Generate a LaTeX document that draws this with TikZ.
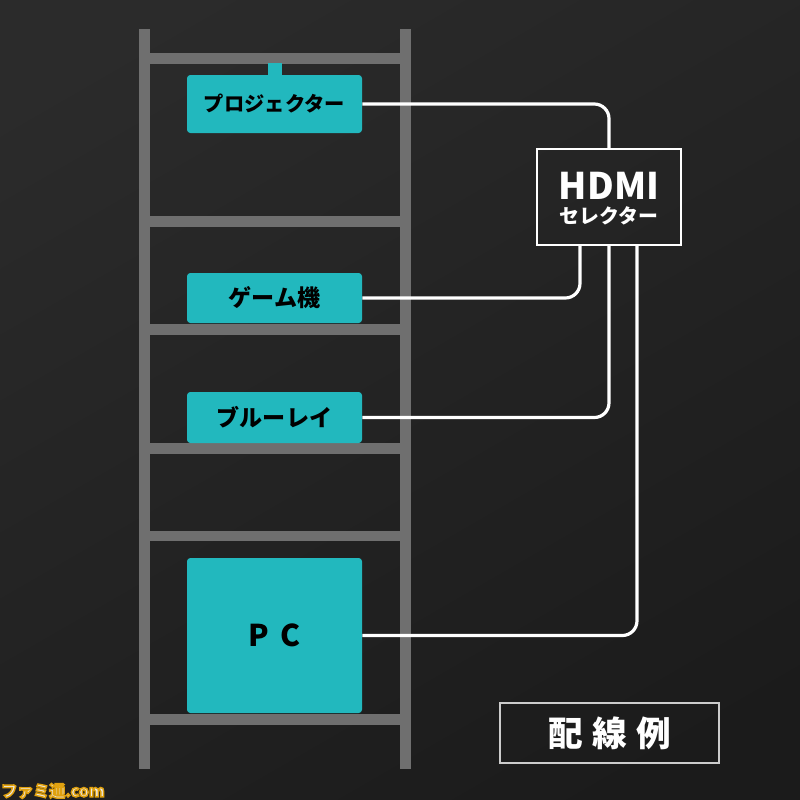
\documentclass[tikz,border=0pt]{standalone}
\usepackage{fontspec}
\setmainfont{Noto Sans CJK JP}
\usetikzlibrary{calc}
\definecolor{bgtop}{HTML}{2B2B2B}
\definecolor{bgbot}{HTML}{1B1B1B}
\definecolor{teal}{HTML}{22B8BE}
\definecolor{rack}{HTML}{6F6F6F}
\tikzset{
  rackbar/.style={fill=rack, draw=none},
  device/.style={fill=teal, draw=none, rounded corners=2.5pt, inner sep=0pt,
    minimum width=131.25pt, text=black, font=\bfseries\fontsize{17.3}{19}\selectfont},
  wire/.style={draw=white, line width=2.4pt, rounded corners=11pt},
  selbox/.style={draw=white, line width=1.5pt, minimum width=108pt, minimum height=72pt, inner sep=0pt},
  legendbox/.style={draw=white!80!black, line width=0.8pt, minimum width=164.25pt, minimum height=45pt, inner sep=0pt},
  whitetext/.style={text=white, inner sep=0pt}
}
\begin{document}
\begin{tikzpicture}[x=0.75pt,y=-0.75pt]
\useasboundingbox (0,0) rectangle (800,800);
\shade[top color=bgtop, bottom color=bgbot, shading angle=30] (-60,-60) rectangle (860,860);
% ladder
\fill[rackbar] (139,29) rectangle (150,769);
\fill[rackbar] (400,29) rectangle (411,769);
\foreach \ya/\yb in {53/64, 216/227, 324/335, 443/454, 531/541, 714/725}{
  \fill[rackbar] (150,\ya) rectangle (400,\yb);
}
% devices
\fill[teal] (268,63) rectangle (282,76);
\node[device, minimum height=43.5pt, font=\bfseries\fontsize{15.2}{17}\selectfont] (proj) at (274.5,104) {プロジェクター};
\node[device, minimum height=37.5pt] (game) at (274.5,298) {ゲーム機};
\node[device, minimum height=38.25pt] (blu) at (274.5,417.5) {ブルーレイ};
\node[device, minimum height=116.25pt, font=\bfseries\fontsize{22.5}{24}\selectfont] (pc) at (274.5,635.5) {P\hspace{0.35em}C};
% selector
\node[selbox] (hdmi) at (609,197) {};
\node[whitetext, font=\bfseries\fontsize{27.5}{29}\selectfont] (hdmit) at (609,186) {HDMI};
\node[whitetext, font=\bfseries\fontsize{14.9}{16}\selectfont] (selt) at (609,216) {セレクター};
% wires
\draw[wire] (proj.east) -| (hdmi.north);
\draw[wire] (game.east) -| ($(hdmi.south)+(-29,0)$);
\draw[wire] (blu.east) -| (hdmi.south);
\draw[wire] (pc.east) -| ($(hdmi.south)+(28,0)$);
% legend
\node[legendbox, whitetext, text=white, font=\bfseries\fontsize{26}{28}\selectfont] (legend) at (609.5,733) {配\hspace{7pt}線\hspace{7pt}例};
% watermark (white letters, orange outline)
\node[anchor=west, text=white!92!black, inner sep=0pt, font=\bfseries\fontsize{12}{12}\selectfont] (wm) at (1,791)
  {\special{pdf:code q 2 Tr 1.1 w 0.88 0.63 0.06 RG}ファミ通.com\special{pdf:code Q}};
\end{tikzpicture}
\end{document}
